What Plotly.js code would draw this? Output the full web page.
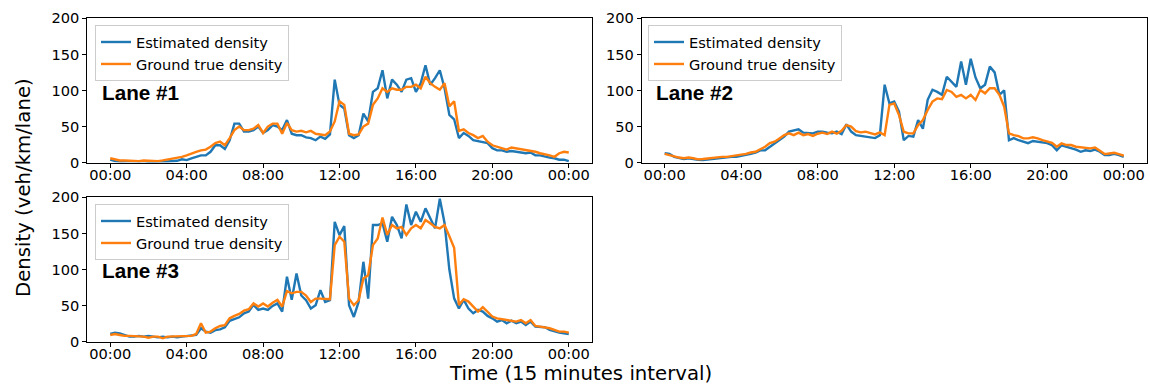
<!DOCTYPE html>
<html>
<head>
<meta charset="utf-8">
<script src="https://cdn.plot.ly/plotly-3.0.1.min.js"></script>
<style>
  html, body { margin: 0; padding: 0; background: #fff; }
  #chart { width: 1150px; height: 390px; }
</style>
</head>
<body>
<div id="chart"></div>
<script>
// Time of day in hours, one sample every 15 minutes from 00:00 to 00:00 next day
const HOURS = Array.from({ length: 97 }, (_, i) => i * 0.25);
const TICK_HOURS = [0, 4, 8, 12, 16, 20, 24];
const TICK_TEXT = ['00:00', '04:00', '08:00', '12:00', '16:00', '20:00', '00:00'];
const Y_TICKS = [0, 50, 100, 150, 200];
const SERIES_NAMES = ['Estimated density', 'Ground true density'];
const LANE_LABELS = ['Lane #1', 'Lane #2', 'Lane #3'];

// Density (veh/km/lane), lane 1
const LANE1_EST = [4, 2, 1.5, 2, 1.5, 2, 1.5, 2, 1, 1.5, 1, 1.5, 1.5, 2, 2.5, 4.5,
  3.5, 6, 8, 10, 10, 15, 24, 24,
  19, 31, 54, 54, 43, 43, 45, 50,
  41, 45, 52, 50, 45, 59, 40, 38,
  38, 35, 34, 31, 36, 33, 39, 115,
  80, 75, 38, 34, 38, 68, 57, 98,
  103, 128, 89, 115, 108, 98, 115, 117,
  98, 110, 135, 108, 117, 128, 103, 66,
  60, 34, 41, 37, 31, 30, 29, 27,
  20, 17, 17, 15, 16, 15, 15, 13,
  14, 10, 10, 8, 7, 6, 4, 4,
  2];
const LANE1_TRUE = [6, 4, 3, 3, 2.5, 3, 2, 3, 2.5, 3, 2, 3, 4, 5, 6, 8,
  10, 13, 15, 17, 18, 22, 27, 29,
  24, 34, 45, 50, 45, 45, 47, 52,
  41, 50, 54, 54, 40, 55, 45, 43,
  44, 42, 44, 40, 39, 38, 43, 57,
  85, 80, 40, 38, 39, 50, 54, 80,
  89, 103, 98, 103, 101, 101, 105, 105,
  108, 103, 119, 110, 105, 101, 110, 78,
  85, 44, 46, 41, 38, 34, 37, 29,
  24, 22, 21, 18, 21, 20, 18, 17,
  17, 15, 13, 12, 10, 8, 13, 15,
  14];

// Density (veh/km/lane), lane 2
const LANE2_EST = [13, 12, 8, 6, 5, 6, 4.5, 4, 3.7, 4.5, 4.5, 5.5, 6, 7, 8, 8,
  9, 10, 12, 14, 17, 17, 22, 27,
  31, 36, 43, 44, 46, 41.5, 41.5, 40.5,
  43, 43, 41.5, 40.5, 43, 39.6, 53, 43,
  38, 37, 36, 36, 34, 38, 108, 82,
  84.5, 70.6, 31, 37, 36, 59, 47, 87,
  101, 98, 94, 119, 112, 105, 140, 108,
  144, 118, 103, 108, 133, 125, 94, 100,
  31, 34, 31, 29, 27, 30, 29, 27,
  27, 24, 17, 24, 22, 21, 18, 15,
  17, 16, 18, 15, 10.4, 10.4, 12, 10.4,
  8];
const LANE2_TRUE = [12, 10, 8, 7, 6, 7, 6, 4.5, 5, 6, 6, 7, 8, 8, 9, 10,
  10.5, 12, 14, 15, 18.5, 22, 27, 29,
  33.5, 38, 40.5, 38, 41.5, 38, 39.6, 37,
  40, 41.5, 39.6, 43, 40, 44, 52, 50,
  43.7, 41.9, 42.8, 40.5, 39, 41.9, 38, 80,
  82, 66, 42.8, 40.5, 40.5, 52, 59, 72.9,
  84.5, 89, 88, 100.7, 98, 91, 93.8, 89,
  93.8, 86.8, 100.7, 96, 103, 103, 93.8, 77.5,
  40.5, 38, 36.8, 33.6, 33.6, 35, 33.6, 31,
  29, 27.5, 22, 26.6, 24.3, 24.3, 22, 21,
  21, 19.7, 21, 17, 11.8, 12.7, 13.6, 11.8,
  9.5];

// Density (veh/km/lane), lane 3
const LANE3_EST = [10.7, 12.5, 11.5, 9.3, 7, 7, 8, 7, 8, 7, 6, 7, 6, 7, 6, 7,
  8, 8, 9.3, 18.6, 14, 12.5, 16, 17,
  20, 29, 31, 33.8, 39.4, 41.7, 51, 44,
  46, 44, 49.6, 53, 41.7, 90, 58, 94.5,
  64, 57.4, 45.9, 50.5, 71.4, 55, 57.4, 166,
  147.7, 160, 50.5, 34.3, 55, 110.7, 59.7, 161.6,
  161.6, 164, 138.5, 173, 161.6, 143, 190, 161.6,
  180, 166, 184.7, 170.9, 157, 198, 164, 100,
  60, 46, 58, 46, 39.4, 44, 41.7, 35.7,
  32.4, 27.8, 30, 25.5, 29.2, 25.5, 27.8, 23.2,
  27.8, 20.9, 20.9, 20, 16.3, 14, 12.5, 11.6,
  10.7];
const LANE3_TRUE = [9.3, 10.7, 9.3, 8, 8, 8, 7, 7, 5.6, 7, 7, 4.7, 7, 7, 8, 7,
  7, 8, 10.7, 25.5, 12.5, 14, 18.6, 21.8,
  23, 32.4, 35.7, 38.5, 43, 45, 53, 48.7,
  53, 48.7, 54, 57.9, 48.7, 70, 67, 69,
  69, 64, 55, 59.7, 59.7, 58.8, 58.8, 133.8,
  145.4, 138.5, 59.7, 50.5, 57.4, 87.5, 92, 133.8,
  143, 172, 148, 161.6, 157, 159, 147.7, 157,
  161.6, 157, 168.5, 164, 159, 157, 161.6, 146,
  130, 51, 58.8, 55.6, 48.7, 41.7, 47.7, 41.7,
  34.8, 32.4, 31, 30, 29.2, 27.8, 30, 25.5,
  30, 21.8, 20.9, 20, 18.6, 16.3, 14, 14,
  12.5];

const BLUE = '#1f77b4';
const ORANGE = '#ff7f0e';
const TICK_FONT = { family: 'DejaVu Sans', size: 14.6, color: '#000' };

const lanes = [
  { est: LANE1_EST, truth: LANE1_TRUE, xa: 'x', ya: 'y', legend: 'legend' },
  { est: LANE2_EST, truth: LANE2_TRUE, xa: 'x2', ya: 'y2', legend: 'legend2' },
  { est: LANE3_EST, truth: LANE3_TRUE, xa: 'x3', ya: 'y3', legend: 'legend3' }
];

const traces = [];
lanes.forEach(l => {
  traces.push({
    x: HOURS, y: l.est, xaxis: l.xa, yaxis: l.ya, legend: l.legend,
    type: 'scatter', mode: 'lines', name: SERIES_NAMES[0],
    line: { color: BLUE, width: 2.4 }
  });
  traces.push({
    x: HOURS, y: l.truth, xaxis: l.xa, yaxis: l.ya, legend: l.legend,
    type: 'scatter', mode: 'lines', name: SERIES_NAMES[1],
    line: { color: ORANGE, width: 2.4 }
  });
});

const W = 1150, H = 390;
const px = v => v / W;
const py = v => 1 - v / H;

function xAxis(domain, anchor) {
  return {
    domain: domain, anchor: anchor, range: [-1.2, 25.2],
    tickmode: 'array', tickvals: TICK_HOURS, ticktext: TICK_TEXT,
    ticks: 'outside', ticklen: 4, tickwidth: 1, tickcolor: '#000',
    ticklabelstandoff: -5,
    showline: true, mirror: true, linecolor: '#000', linewidth: 1,
    showgrid: false, zeroline: false, tickfont: TICK_FONT
  };
}
function yAxis(domain, anchor) {
  return {
    domain: domain, anchor: anchor, range: [0, 200],
    tickmode: 'array', tickvals: Y_TICKS,
    ticks: 'outside', ticklen: 4, tickwidth: 1, tickcolor: '#000',
    showline: true, mirror: true, linecolor: '#000', linewidth: 1,
    showgrid: false, zeroline: false, tickfont: TICK_FONT
  };
}

const leftCol = [px(87.3), px(591.7)];
const rightCol = [px(641.7), px(1146.7)];
const topRow = [py(162.6), py(18.3)];
const bottomRow = [py(341.7), py(197.3)];

function legendAt(x, y) {
  return {
    x: x, y: y, xanchor: 'left', yanchor: 'top',
    bgcolor: 'rgba(255,255,255,0.8)', bordercolor: '#cccccc', borderwidth: 1,
    font: { family: 'DejaVu Sans', size: 14.6, color: '#000' },
    traceorder: 'normal', tracegroupgap: 0
  };
}

const labelFont = { family: 'Liberation Sans', size: 20.7, color: '#000' };
const titleFont = { family: 'DejaVu Sans', size: 19.7, color: '#000' };

const layout = {
  width: W, height: H,
  margin: { l: 0, r: 0, t: 0, b: 0 },
  paper_bgcolor: '#fff', plot_bgcolor: '#fff',
  font: { family: 'DejaVu Sans', color: '#000' },
  showlegend: true,
  xaxis: xAxis(leftCol, 'y'),
  yaxis: yAxis(topRow, 'x'),
  xaxis2: xAxis(rightCol, 'y2'),
  yaxis2: yAxis(topRow, 'x2'),
  xaxis3: xAxis(leftCol, 'y3'),
  yaxis3: yAxis(bottomRow, 'x3'),
  legend: legendAt(px(95), py(25)),
  legend2: legendAt(px(648), py(25)),
  legend3: legendAt(px(95), py(204)),
  annotations: [
    { text: '<b>' + LANE_LABELS[0] + '</b>', xref: 'paper', yref: 'paper', x: px(100), y: py(92.5),
      xanchor: 'left', yanchor: 'middle', showarrow: false, font: labelFont },
    { text: '<b>' + LANE_LABELS[1] + '</b>', xref: 'paper', yref: 'paper', x: px(654), y: py(92.5),
      xanchor: 'left', yanchor: 'middle', showarrow: false, font: labelFont },
    { text: '<b>' + LANE_LABELS[2] + '</b>', xref: 'paper', yref: 'paper', x: px(100), y: py(270),
      xanchor: 'left', yanchor: 'middle', showarrow: false, font: labelFont },
    { text: 'Time (15 minutes interval)', xref: 'paper', yref: 'paper', x: px(580.7), y: py(373.5),
      xanchor: 'center', yanchor: 'middle', showarrow: false, font: titleFont },
    { text: 'Density (veh/km/lane)', xref: 'paper', yref: 'paper', x: px(23), y: py(188),
      xanchor: 'center', yanchor: 'middle', textangle: -90, showarrow: false, font: titleFont }
  ]
};

Plotly.newPlot('chart', traces, layout, { displayModeBar: false, staticPlot: true });
</script>
</body>
</html>
